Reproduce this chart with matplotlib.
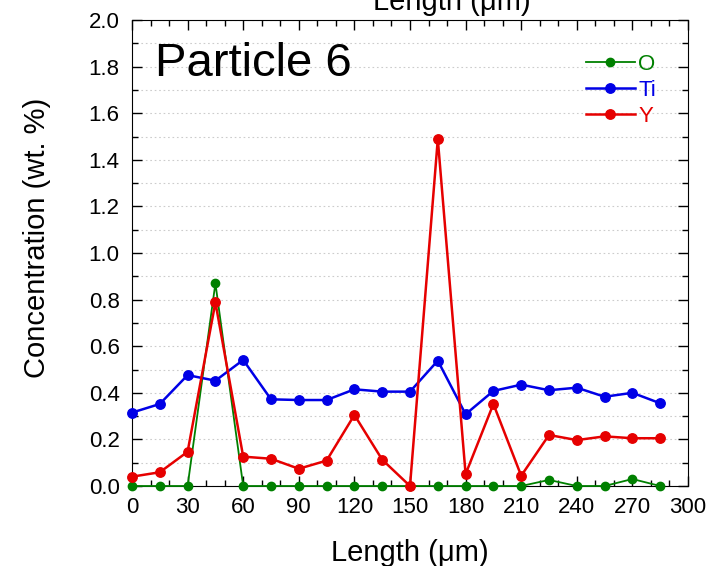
import numpy as np
import matplotlib
matplotlib.use('Agg')
import matplotlib.pyplot as plt
from matplotlib.ticker import MultipleLocator

plt.rcParams['font.family'] = ['Liberation Sans', 'DejaVu Sans']

# Data
length = [0, 15, 30, 45, 60, 75, 90, 105, 120, 135, 150, 165, 180, 195, 210, 225, 240, 255, 270, 285]
conc_O = [0, 0, 0, 0.87, 0, 0, 0, 0, 0, 0, 0, 0, 0, 0, 0, 0.026, 0, 0, 0.03, 0]
conc_Ti = [0.315, 0.352, 0.476, 0.452, 0.541, 0.372, 0.369, 0.369, 0.415, 0.405,
           0.405, 0.538, 0.308, 0.408, 0.435, 0.411, 0.422, 0.383, 0.400, 0.355]
conc_Y = [0.040, 0.059, 0.147, 0.788, 0.126, 0.117, 0.074, 0.109, 0.305, 0.113,
          0.0, 1.489, 0.051, 0.352, 0.044, 0.219, 0.197, 0.213, 0.205, 0.205]

labels = ['O', 'Ti', 'Y']
colors = ['#008000', '#0000e6', '#e60000']

fig = plt.figure(figsize=(7.17, 5.66), dpi=100)
ax = fig.add_axes([132/717, 1-486/566, 556/717, 466/566])

ax.plot(length, conc_O, '-o', color=colors[0], lw=1.3, ms=6, label=labels[0], clip_on=False, zorder=3)
ax.plot(length, conc_Ti, '-o', color=colors[1], lw=1.8, ms=6.8, label=labels[1], clip_on=False, zorder=3)
ax.plot(length, conc_Y, '-o', color=colors[2], lw=1.8, ms=6.8, label=labels[2], clip_on=False, zorder=4)

ax.set_xlim(0, 300)
ax.set_ylim(0, 2.0)
ax.xaxis.set_major_locator(MultipleLocator(30))
ax.xaxis.set_minor_locator(MultipleLocator(10))
ax.yaxis.set_major_locator(MultipleLocator(0.2))
ax.yaxis.set_minor_locator(MultipleLocator(0.1))
ax.yaxis.set_major_formatter(plt.FormatStrFormatter('%.1f'))
ax.tick_params(which='both', direction='in', top=True, right=True, labelsize=16)
ax.tick_params(axis='x', pad=8)
ax.tick_params(axis='y', pad=9)
ax.tick_params(which='major', length=7, width=1)
ax.tick_params(which='minor', length=4, width=1)
ax.grid(axis='y', which='both', color='#cccccc', linestyle=(0, (1.5, 2.5)), lw=0.8)
ax.set_axisbelow(True)

ax.set_xlabel('Length (\u03bcm)', fontsize=21, labelpad=15)
ax.set_ylabel('Concentration (wt. %)', fontsize=21)
ax.yaxis.set_label_coords(-0.145, 0.532)
fig.text(452/717, 1-2/566, 'Length (\u03bcm)', fontsize=21, ha='center', va='center')

ax.text(0.042, 0.905, 'Particle 6', transform=ax.transAxes, fontsize=34, va='center')

leg = ax.legend(loc='upper right', bbox_to_anchor=(0.978, 0.97), frameon=False,
                fontsize=16, handlelength=2.2, handletextpad=0.15, labelspacing=0.22,
                labelcolor='linecolor')

fig.savefig('out.png', dpi=100)
